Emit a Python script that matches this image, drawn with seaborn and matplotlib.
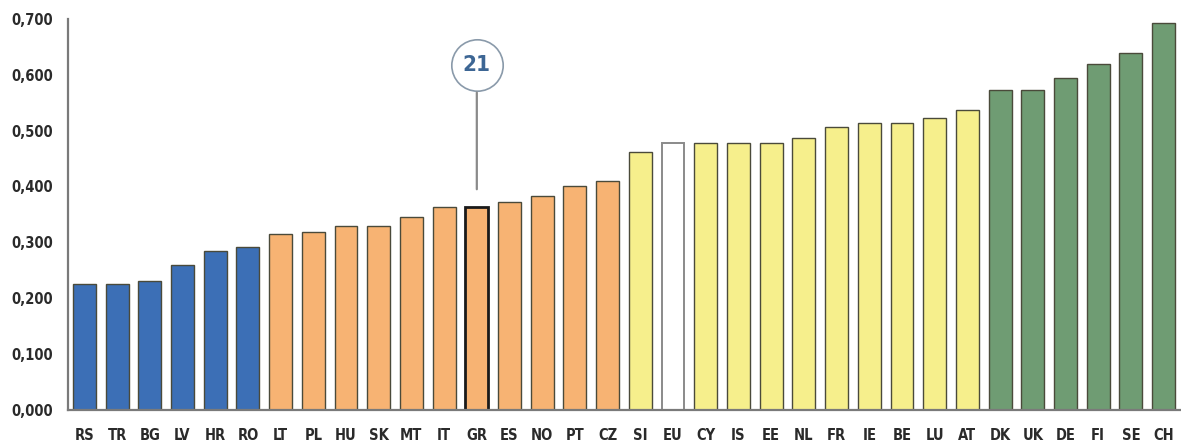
import matplotlib
matplotlib.use("Agg")
import matplotlib.pyplot as plt
from matplotlib.ticker import FuncFormatter, FixedLocator
from matplotlib import font_manager
import seaborn as sns
import pandas as pd

countries = ["RS", "TR", "BG", "LV", "HR", "RO", "LT", "PL", "HU", "SK", "MT", "IT",
             "GR", "ES", "NO", "PT", "CZ", "SI", "EU", "CY", "IS", "EE", "NL", "FR",
             "IE", "BE", "LU", "AT", "DK", "UK", "DE", "FI", "SE", "CH"]
values = [0.225, 0.225, 0.230, 0.260, 0.285, 0.292, 0.315, 0.319, 0.329, 0.329, 0.345, 0.364,
          0.364, 0.373, 0.382, 0.400, 0.410, 0.462, 0.477, 0.477, 0.477, 0.477, 0.486, 0.506,
          0.513, 0.513, 0.523, 0.537, 0.572, 0.572, 0.594, 0.619, 0.639, 0.693]
groups = ["low"] * 6 + ["mid"] * 11 + ["high"] + ["avg"] + ["high"] * 9 + ["top"] * 6
highlight = "GR"
highlight_rank = "21"

group_colors = {"low": "#3c6fb6", "mid": "#f7b373", "high": "#f6ef8c",
                "avg": "#ffffff", "top": "#6f9c73"}

df = pd.DataFrame({"country": countries, "value": values, "group": groups})

sns.set_style("white")
names = {f.name for f in font_manager.fontManager.ttflist}
family = "Liberation Sans Narrow" if "Liberation Sans Narrow" in names else "DejaVu Sans"
plt.rcParams["font.family"] = [family, "DejaVu Sans"]
print(family, sorted(n for n in names if "Narrow" in n or "Condensed" in n))

fig = plt.figure(figsize=(11.81, 4.48), dpi=100)
ax = fig.add_axes([0.0576, 0.085, 0.9415, 0.873])

sns.barplot(data=df, x="country", y="value", hue="country",
            palette=[group_colors[g] for g in groups], legend=False,
            width=0.70, edgecolor="#4a4a3a", linewidth=1.0, ax=ax,
            errorbar=None, saturation=1)

for patch, c, g in zip(ax.patches, countries, groups):
    if g == "avg":
        patch.set_edgecolor("#8a8a8a")
        patch.set_linewidth(1.4)
    if c == highlight:
        patch.set_edgecolor("#1a1a1a")
        patch.set_linewidth(2.0)

ax.set_xlim(-0.5, len(countries) - 0.5)
ax.set_ylim(0, 0.7)
ax.set_xlabel("")
ax.set_ylabel("")

ax.yaxis.set_major_locator(FixedLocator([i / 10 for i in range(8)]))
ax.yaxis.set_major_formatter(FuncFormatter(lambda v, _: f"{v:.3f}".replace(".", ",")))
ax.xaxis.set_minor_locator(FixedLocator([i - 0.5 for i in range(len(countries) + 1)]))
ax.tick_params(axis="x", which="major", length=0, pad=13, labelsize=10.5,
               labelcolor="#2a2a2a")
ax.tick_params(axis="x", which="minor", length=4, width=1.0, color="#7a7a7a",
               direction="out")
ax.tick_params(axis="y", which="major", length=6, width=1.0, color="#7a7a7a",
               direction="out", labelsize=10.5, labelcolor="#2a2a2a", pad=5)
for lab in ax.get_xticklabels() + ax.get_yticklabels():
    lab.set_fontweight("bold")
    lab.set_fontstretch("condensed")

for side in ("top", "right"):
    ax.spines[side].set_visible(False)
for side in ("left", "bottom"):
    ax.spines[side].set_color("#7a7a7a")
    ax.spines[side].set_linewidth(1.6)

# Rank marker above the highlighted bar
gi = countries.index(highlight)
gv = values[gi]
cy = 0.618
ax.annotate("", xy=(gi, gv + 0.026), xytext=(gi, cy - 0.045),
            arrowprops=dict(arrowstyle="-", color="#8a8a8a", lw=1.6))
ax.plot([gi], [cy], marker="o", markersize=37, markerfacecolor="white",
        markeredgecolor="#8a9aaa", markeredgewidth=1.2, clip_on=False)
ax.text(gi, cy, highlight_rank, ha="center", va="center", fontsize=16,
        fontweight="bold", color="#3d6694", fontstretch="condensed")

fig.savefig("out.png", dpi=100, facecolor="white")
